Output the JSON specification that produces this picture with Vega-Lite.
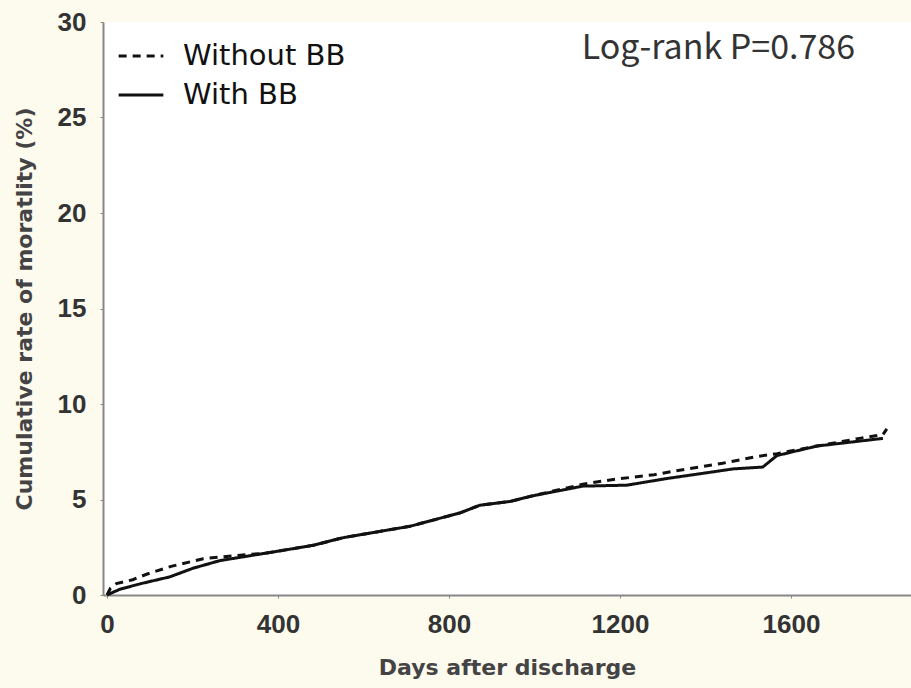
{
  "$schema": "https://vega.github.io/schema/vega-lite/v6.json",
  "width": 808,
  "height": 573,
  "autosize": {"type": "none"},
  "padding": {"left": 103, "top": 22, "right": 0, "bottom": 93},
  "background": "#fdfaee",
  "config": {
    "view": {"fill": "white", "stroke": null},
    "font": "DejaVu Sans"
  },
  "datasets": {
    "curves": [
      {"group": "Without BB", "day": 0, "rate": 0},
      {"group": "Without BB", "day": 8, "rate": 0.35},
      {"group": "Without BB", "day": 22, "rate": 0.6},
      {"group": "Without BB", "day": 60, "rate": 0.8},
      {"group": "Without BB", "day": 94, "rate": 1.1},
      {"group": "Without BB", "day": 150, "rate": 1.5},
      {"group": "Without BB", "day": 225, "rate": 1.9},
      {"group": "Without BB", "day": 270, "rate": 2.0},
      {"group": "Without BB", "day": 374, "rate": 2.2},
      {"group": "Without BB", "day": 482, "rate": 2.6},
      {"group": "Without BB", "day": 552, "rate": 3.0},
      {"group": "Without BB", "day": 709, "rate": 3.6},
      {"group": "Without BB", "day": 826, "rate": 4.3},
      {"group": "Without BB", "day": 872, "rate": 4.7},
      {"group": "Without BB", "day": 943, "rate": 4.9},
      {"group": "Without BB", "day": 997, "rate": 5.2},
      {"group": "Without BB", "day": 1113, "rate": 5.8},
      {"group": "Without BB", "day": 1184, "rate": 6.05},
      {"group": "Without BB", "day": 1280, "rate": 6.3},
      {"group": "Without BB", "day": 1357, "rate": 6.6},
      {"group": "Without BB", "day": 1440, "rate": 6.9},
      {"group": "Without BB", "day": 1520, "rate": 7.25},
      {"group": "Without BB", "day": 1567, "rate": 7.4},
      {"group": "Without BB", "day": 1661, "rate": 7.8},
      {"group": "Without BB", "day": 1760, "rate": 8.2},
      {"group": "Without BB", "day": 1815, "rate": 8.4},
      {"group": "Without BB", "day": 1824, "rate": 8.7},
      {"group": "With BB", "day": 0, "rate": 0},
      {"group": "With BB", "day": 30, "rate": 0.3},
      {"group": "With BB", "day": 80, "rate": 0.6},
      {"group": "With BB", "day": 147, "rate": 0.95},
      {"group": "With BB", "day": 201, "rate": 1.4},
      {"group": "With BB", "day": 264, "rate": 1.8},
      {"group": "With BB", "day": 374, "rate": 2.2},
      {"group": "With BB", "day": 482, "rate": 2.6},
      {"group": "With BB", "day": 552, "rate": 3.0},
      {"group": "With BB", "day": 709, "rate": 3.6},
      {"group": "With BB", "day": 826, "rate": 4.3},
      {"group": "With BB", "day": 872, "rate": 4.7},
      {"group": "With BB", "day": 943, "rate": 4.9},
      {"group": "With BB", "day": 997, "rate": 5.2},
      {"group": "With BB", "day": 1113, "rate": 5.7},
      {"group": "With BB", "day": 1216, "rate": 5.75},
      {"group": "With BB", "day": 1310, "rate": 6.1},
      {"group": "With BB", "day": 1403, "rate": 6.4},
      {"group": "With BB", "day": 1464, "rate": 6.6},
      {"group": "With BB", "day": 1534, "rate": 6.7},
      {"group": "With BB", "day": 1567, "rate": 7.3},
      {"group": "With BB", "day": 1661, "rate": 7.8},
      {"group": "With BB", "day": 1815, "rate": 8.2}
    ],
    "note": [{"day": 1430, "rate": 28.6, "label": "Log-rank P=0.786"}]
  },
  "layer": [
    {
      "data": {"name": "curves"},
      "mark": {"type": "line", "color": "#111", "strokeWidth": 3},
      "encoding": {
        "x": {
          "field": "day", "type": "quantitative",
          "scale": {"domain": [-9.4, 1880.6], "nice": false, "zero": false},
          "axis": {
            "title": "Days after discharge",
            "values": [0, 400, 800, 1200, 1600],
            "format": "d",
            "grid": false,
            "domainColor": "#888", "domainWidth": 2,
            "tickColor": "#888", "tickSize": 3,
            "labelFont": "Liberation Sans",
            "labelFontSize": 26, "labelColor": "#333", "labelFontWeight": "bold",
            "labelPadding": 13,
            "titleFontSize": 22, "titleColor": "#444", "titleFontWeight": "bold",
            "titlePadding": 20
          }
        },
        "y": {
          "field": "rate", "type": "quantitative",
          "scale": {"domain": [0, 30], "nice": false},
          "axis": {
            "title": "Cumulative rate of moratlity (%)",
            "values": [0, 5, 10, 15, 20, 25, 30],
            "grid": false,
            "domainColor": "#888", "domainWidth": 2,
            "tickColor": "#888", "tickSize": 3,
            "labelFont": "Liberation Sans",
            "labelFontSize": 26, "labelColor": "#333", "labelFontWeight": "bold",
            "labelPadding": 14,
            "titleFontSize": 22, "titleColor": "#444", "titleFontWeight": "bold",
            "titlePadding": 21
          }
        },
        "strokeDash": {
          "field": "group", "type": "nominal",
          "scale": {"domain": ["Without BB", "With BB"], "range": [[8, 6], [1, 0]]},
          "legend": {
            "title": null,
            "orient": "none",
            "legendX": 14,
            "legendY": 10,
            "symbolType": "stroke",
            "symbolSize": 2000,
            "symbolStrokeWidth": 3,
            "symbolStrokeColor": "#111",
            "labelFontSize": 29,
            "labelColor": "#111",
            "labelLimit": 400,
            "labelOffset": 18,
            "rowPadding": 0,
            "padding": 0
          }
        },
        "order": {"field": "day", "type": "quantitative"}
      }
    },
    {
      "data": {"name": "note"},
      "mark": {"type": "text", "fontSize": 34, "color": "#333", "align": "center", "baseline": "middle", "font": "Noto Sans CJK JP"},
      "encoding": {
        "x": {"field": "day", "type": "quantitative"},
        "y": {"field": "rate", "type": "quantitative"},
        "text": {"field": "label"}
      }
    }
  ]
}
